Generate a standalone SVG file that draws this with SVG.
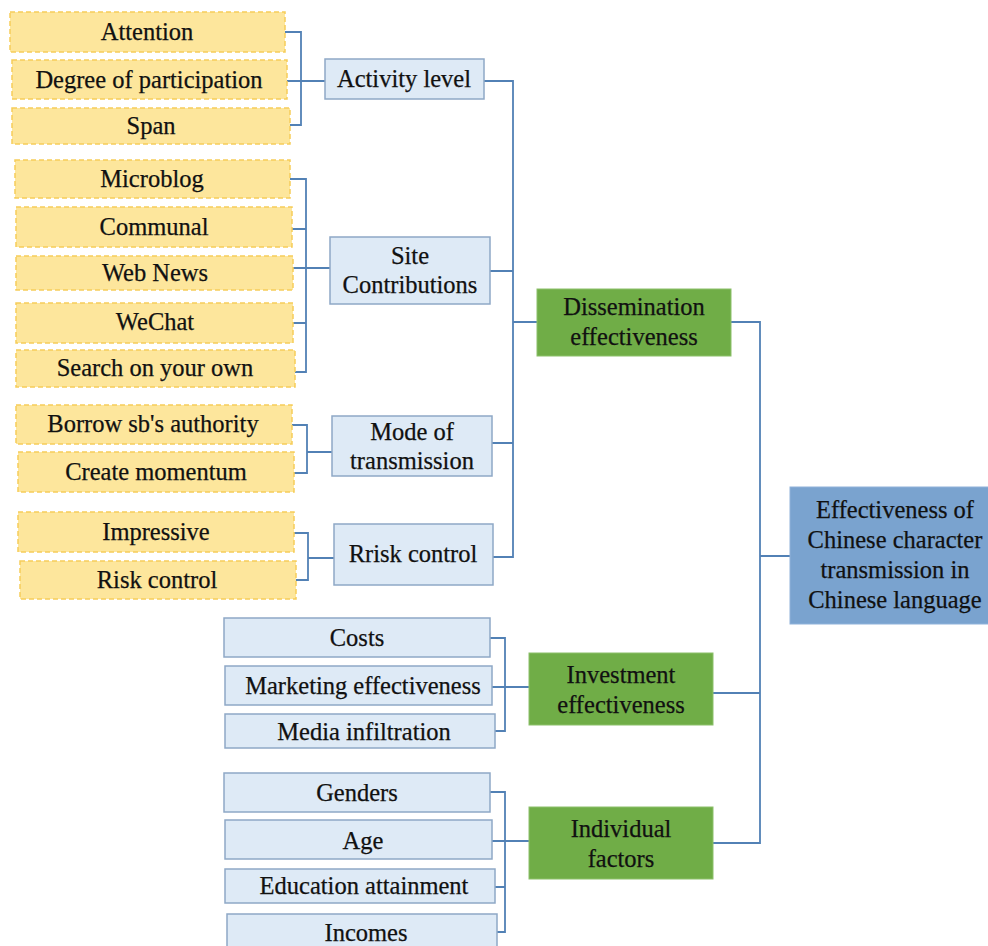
<svg xmlns="http://www.w3.org/2000/svg" width="988" height="946" viewBox="0 0 988 946">
<style>
text{font-family:"Liberation Serif","Times New Roman",serif;font-size:24.5px;fill:#111;stroke:#111;stroke-width:0.25;text-anchor:middle;dominant-baseline:central}
.y{fill:#fde69c;stroke:#f6cd5a;stroke-width:1.5;stroke-dasharray:5 3}
.b{fill:#deeaf6;stroke:#8ea8c6;stroke-width:1.5}
.g{fill:#70ad47;stroke:#8cc06b;stroke-width:1}
.m{fill:#7aa3cf;stroke:#8fb2da;stroke-width:1}
.c{fill:none;stroke:#5281b5;stroke-width:1.8}
</style>
<rect width="988" height="946" fill="#fff"/>
<g id="connectors">
<path class="c" d="M285 32H301V125H290M287 81H325"/>
<path class="c" d="M290 179H306V372H295M292 229H306M293 323H306M293 268H330"/>
<path class="c" d="M292 425H307V473H294M307 452H332"/>
<path class="c" d="M294 533H308V580H296M308 558H334"/>
<path class="c" d="M484 81H513V557H493M490 271H513M492 443H513M513 322H537"/>
<path class="c" d="M490 638H505V731H495M492 687H529"/>
<path class="c" d="M490 792H505V932H497M492 841H529M495 887H505"/>
<path class="c" d="M731 322H760V843H713M713 693H760M760 556H790"/>
</g>
<g id="n-attention"><rect class="y" x="10" y="12" width="275" height="40"/><text x="147" y="31">Attention</text></g>
<g id="n-degree"><rect class="y" x="12" y="60" width="275" height="39"/><text x="149" y="79">Degree of participation</text></g>
<g id="n-span"><rect class="y" x="12" y="108" width="278" height="36"/><text x="151" y="125">Span</text></g>
<g id="n-activity"><rect class="b" x="325" y="59" width="159" height="40"/><text x="404" y="78">Activity level</text></g>
<g id="n-microblog"><rect class="y" x="15" y="160" width="275" height="38"/><text x="152" y="178">Microblog</text></g>
<g id="n-communal"><rect class="y" x="16" y="207" width="276" height="40"/><text x="154" y="226">Communal</text></g>
<g id="n-webnews"><rect class="y" x="16" y="256" width="277" height="34"/><text x="155" y="272">Web News</text></g>
<g id="n-wechat"><rect class="y" x="16" y="303" width="277" height="40"/><text x="155" y="321">WeChat</text></g>
<g id="n-search"><rect class="y" x="16" y="350" width="279" height="37"/><text x="155" y="367">Search on your own</text></g>
<g id="n-site"><rect class="b" x="330" y="237" width="160" height="67"/><text x="410" y="255">Site</text><text x="410" y="284">Contributions</text></g>
<g id="n-borrow"><rect class="y" x="16" y="405" width="276" height="39"/><text x="153" y="423">Borrow sb's authority</text></g>
<g id="n-create"><rect class="y" x="18" y="452" width="276" height="40"/><text x="156" y="471">Create momentum</text></g>
<g id="n-mode"><rect class="b" x="332" y="416" width="160" height="60"/><text x="412" y="431">Mode of</text><text x="412" y="460">transmission</text></g>
<g id="n-impressive"><rect class="y" x="18" y="512" width="276" height="40"/><text x="156" y="531">Impressive</text></g>
<g id="n-riskcontrol"><rect class="y" x="20" y="561" width="276" height="38"/><text x="157" y="579">Risk control</text></g>
<g id="n-rrisk"><rect class="b" x="334" y="524" width="159" height="61"/><text x="413" y="553">Rrisk control</text></g>
<g id="n-dissemination"><rect class="g" x="537" y="289" width="194" height="67"/><text x="634" y="306">Dissemination</text><text x="634" y="336">effectiveness</text></g>
<g id="n-main"><rect class="m" x="790" y="487" width="200" height="137"/><text x="895" y="509">Effectiveness of</text><text x="895" y="539">Chinese character</text><text x="895" y="569">transmission in</text><text x="895" y="599">Chinese language</text></g>
<g id="n-costs"><rect class="b" x="224" y="618" width="266" height="39"/><text x="357" y="637">Costs</text></g>
<g id="n-marketing"><rect class="b" x="225" y="666" width="267" height="39"/><text x="363" y="685">Marketing effectiveness</text></g>
<g id="n-media"><rect class="b" x="225" y="714" width="270" height="34"/><text x="364" y="731">Media infiltration</text></g>
<g id="n-investment"><rect class="g" x="529" y="653" width="184" height="72"/><text x="621" y="674">Investment</text><text x="621" y="704">effectiveness</text></g>
<g id="n-genders"><rect class="b" x="224" y="773" width="266" height="39"/><text x="357" y="792">Genders</text></g>
<g id="n-age"><rect class="b" x="225" y="820" width="267" height="39"/><text x="363" y="840">Age</text></g>
<g id="n-education"><rect class="b" x="225" y="869" width="270" height="34"/><text x="364" y="885">Education attainment</text></g>
<g id="n-incomes"><rect class="b" x="227" y="914" width="270" height="40"/><text x="366" y="932">Incomes</text></g>
<g id="n-individual"><rect class="g" x="529" y="807" width="184" height="72"/><text x="621" y="828">Individual</text><text x="621" y="858">factors</text></g>
</svg>
